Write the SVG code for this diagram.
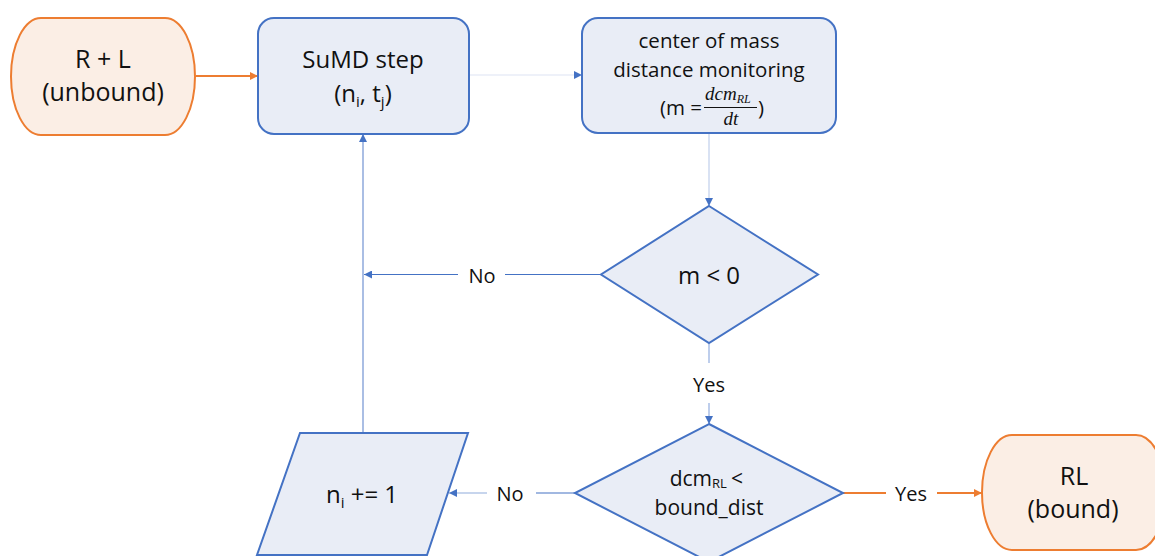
<svg xmlns="http://www.w3.org/2000/svg" width="1155" height="556" viewBox="0 0 1155 556">
  <defs>
    <style>
      .term { fill: #FBEEE5; stroke: #ED7D31; stroke-width: 2; }
      .proc { fill: #E9EDF6; stroke: #4472C4; stroke-width: 2; }
      .t { font-family: "Open Sans", "Liberation Sans", sans-serif; fill: #111; text-anchor: middle; }
      .lbl { font-family: "Open Sans", "Liberation Sans", sans-serif; fill: #111; font-size: 20px; text-anchor: middle; }
      .math { font-family: "Liberation Serif", "DejaVu Serif", serif; font-style: italic; fill: #111; }
      .c-blue { fill: none; stroke: #4472C4; stroke-width: 1.2; }
      .c-light { fill: none; stroke: #A9BEE6; stroke-width: 1.5; }
      .c-faint { fill: none; stroke: #EEF1F9; stroke-width: 2; }
      .c-orange { fill: none; stroke: #ED7D31; stroke-width: 2; }
    </style>
    <marker id="ab" viewBox="0 0 10 10" refX="10" refY="5" markerWidth="8" markerHeight="8" markerUnits="userSpaceOnUse" orient="auto">
      <path d="M0,0 L10,5 L0,10 z" fill="#4472C4"/>
    </marker>
    <marker id="ao" viewBox="0 0 10 10" refX="10" refY="5" markerWidth="8" markerHeight="8" markerUnits="userSpaceOnUse" orient="auto">
      <path d="M0,0 L10,5 L0,10 z" fill="#ED7D31"/>
    </marker>
  </defs>

  <g id="connectors">
    <line class="c-orange" x1="196" y1="76" x2="258" y2="76" marker-end="url(#ao)"/>
    <line class="c-faint" x1="470" y1="75" x2="582" y2="75" marker-end="url(#ab)"/>
    <line class="c-light" x1="709" y1="134" x2="709" y2="206" marker-end="url(#ab)" style="stroke:#CCD8EF"/>
    <line class="c-blue" x1="601" y1="274.5" x2="505" y2="274.5"/>
    <line class="c-blue" x1="458" y1="274.5" x2="364" y2="274.5" marker-end="url(#ab)"/>
    <line class="c-light" x1="363" y1="433" x2="363" y2="134" marker-end="url(#ab)" style="stroke:#8EA9DB"/>
    <line class="c-light" x1="709" y1="344" x2="709" y2="363"/>
    <line class="c-light" x1="709" y1="403" x2="709" y2="424" marker-end="url(#ab)"/>
    <line class="c-blue" x1="575" y1="493" x2="536" y2="493"/>
    <line class="c-light" x1="487" y1="493" x2="449" y2="493" marker-end="url(#ab)" style="stroke:#B4C7E7"/>
    <line class="c-orange" x1="843" y1="493" x2="886" y2="493"/>
    <line class="c-orange" x1="937" y1="493" x2="982" y2="493" marker-end="url(#ao)"/>
    <text class="lbl" x="482" y="283">No</text>
    <text class="lbl" x="709" y="392">Yes</text>
    <text class="lbl" x="510" y="501">No</text>
    <text class="lbl" x="911" y="501">Yes</text>
  </g>

  <g id="start">
    <path class="term" d="M41,18 H165 A30,58.5 0 0 1 165,135 H41 A30,58.5 0 0 1 41,18 Z"/>
    <text class="t" x="103" y="68" font-size="25">R + L</text>
    <text class="t" x="103" y="101" font-size="25">(unbound)</text>
  </g>

  <g id="sumd">
    <rect class="proc" x="258" y="18" width="211" height="116" rx="16" ry="16"/>
    <text class="t" x="363" y="68" font-size="24">SuMD step</text>
    <text class="t" x="363" y="102" font-size="24">(n<tspan font-size="15" dy="5">i</tspan><tspan dy="-5">, t</tspan><tspan font-size="15" dy="5">j</tspan><tspan dy="-5">)</tspan></text>
  </g>

  <g id="com">
    <rect class="proc" x="582" y="18" width="254" height="115" rx="16" ry="16"/>
    <text class="t" x="709" y="48" font-size="20.5">center of mass</text>
    <text class="t" x="709" y="77" font-size="20.5">distance monitoring</text>
    <text class="t" x="702" y="115" font-size="20.5" style="text-anchor:end">(m =</text>
    <text class="math" x="705" y="100" font-size="19">dcm<tspan font-size="12" dy="3">RL</tspan></text>
    <line x1="704" y1="107.5" x2="757" y2="107.5" stroke="#111" stroke-width="1"/>
    <text class="math" x="731" y="125" font-size="19" text-anchor="middle">dt</text>
    <text class="t" x="761" y="115" font-size="20.5">)</text>
  </g>

  <g id="decision1">
    <polygon class="proc" points="709,206 818,274.5 709,343 601,274.5"/>
    <text class="t" x="709" y="284" font-size="24">m &lt; 0</text>
  </g>

  <g id="decision2">
    <polygon class="proc" points="709,424 843,493 709,562 575,493"/>
    <text class="t" x="712" y="486" font-size="21" style="text-anchor:end">dcm</text>
    <text class="t" x="712" y="488" font-size="13" style="text-anchor:start">RL</text>
    <text class="t" x="731" y="486" font-size="21" style="text-anchor:start">&lt;</text>
    <text class="t" x="709" y="515" font-size="21">bound_dist</text>
  </g>

  <g id="increment">
    <polygon class="proc" points="300,433 468,433 427,555 257,555"/>
    <text class="t" x="362" y="503" font-size="24">n<tspan font-size="15" dy="5">i</tspan><tspan dy="-5"> += 1</tspan></text>
  </g>

  <g id="end">
    <path class="term" d="M1012,435 H1136 A30,57.5 0 0 1 1136,550 H1012 A30,57.5 0 0 1 1012,435 Z"/>
    <text class="t" x="1074" y="485" font-size="25">RL</text>
    <text class="t" x="1073" y="518" font-size="25">(bound)</text>
  </g>
</svg>
